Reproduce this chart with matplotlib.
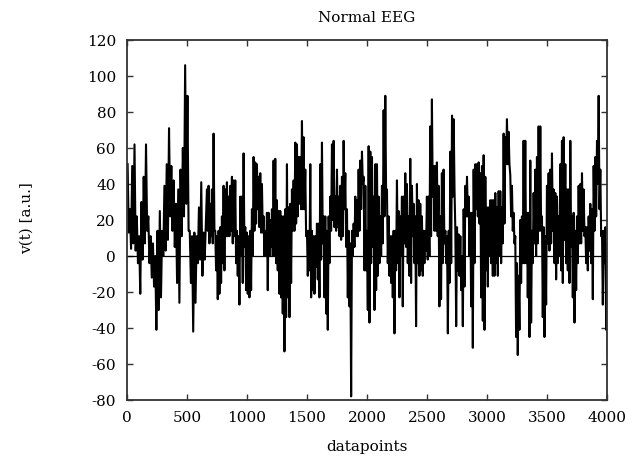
import numpy as np
import matplotlib
matplotlib.use("Agg")
import matplotlib.pyplot as plt

plt.rcParams["axes.unicode_minus"] = False

# Datapoint ranges covered by each block of readings
seg_start = [5, 666, 1319, 1986, 2653, 3319]
seg_end = [638, 1305, 1972, 2638, 3305, 4000]

# Local maxima / minima of the EEG trace (a.u.), read block by block
hi1 = [51,26,50,62,22,11,30,44,62,22,11,7,0,14,25,14,39,51,71,50,42,29,37,48,60,106,89,14,11,13,11,27,41,13]
lo1 = [13,4,7,3,-4,-21,-2,7,14,-4,-12,-17,-41,-30,-23,0,3,9,22,14,5,-15,-26,11,22,29,14,-15,-42,-26,-4,-2,-11,-2]

hi2 = [37,39,29,37,68,14,11,14,16,22,39,37,41,33,39,44,42,42,14,11,33,33,57,16,13,11,14,26,55,52,51,44,46,40,22,14,24,24,20,26,53,54,31,25,25,22,22]
lo2 = [14,7,11,7,14,-8,-24,-21,-15,-4,-8,11,11,11,14,7,11,-4,-11,-27,0,-15,5,-19,-21,-23,-19,0,14,18,26,16,13,13,0,0,-19,0,5,0,0,-4,-8,-21,-23,-32,-53]

hi3 = [26,51,27,29,37,42,63,62,55,55,75,66,48,14,14,51,14,11,11,18,18,51,63,22,22,14,22,33,62,64,33,48,33,39,44,64,46,26,14,7,14,18,33,31,48,53,58,44]
lo3 = [-34,-23,-34,-15,14,14,18,22,29,26,26,26,11,-11,-8,-23,-19,-21,-6,-13,-23,-2,7,-23,-32,-41,-4,14,20,16,14,16,11,9,11,26,5,-23,-28,-78,0,5,11,11,14,26,40,-8]

hi4 = [39,14,61,58,55,33,51,51,33,22,39,81,89,37,22,11,11,14,14,42,25,22,33,33,46,40,22,54,39,29,22,40,31,29,22,14,14,33,33,72,87,50,50,52,39,22,46,48]
lo4 = [-8,-30,-37,-4,5,-30,-19,-11,-4,0,7,22,33,-4,-11,-15,-23,-43,-8,-4,-23,0,-28,7,5,-4,-11,-15,11,-4,-39,-4,-11,-8,-11,-4,3,-2,0,11,33,14,14,11,-28,-24,-4,7]

hi5 = [14,11,14,58,78,76,14,16,12,11,0,26,39,44,33,24,24,48,51,51,52,46,50,56,44,27,27,31,31,31,35,27,36,36,27,68,66,76,69,45,39,24,11,-4,-11,20,22,64]
lo5 = [-4,-43,-15,-4,33,37,-39,-8,-11,-19,-39,-17,22,22,0,-28,-51,-4,26,22,18,-23,-36,-41,-8,-17,0,-4,-11,-11,-4,-11,0,-4,7,18,51,51,51,22,14,7,-45,-55,-41,-15,-4,-4]

hi6 = [64,24,24,53,14,35,48,55,72,72,22,16,11,39,46,48,57,37,35,33,22,51,64,66,51,37,37,64,22,24,14,22,39,40,46,37,16,16,22,29,26,50,55,64,89,48,14,14,16,7]
lo6 = [-4,-23,-45,-37,-4,7,0,7,14,14,-34,-45,-27,7,3,7,14,-4,-13,-4,0,-8,-15,9,-4,-8,-15,5,-23,-37,-19,-4,7,7,14,11,-4,-8,3,-4,-24,14,22,40,26,11,-27,-4,-41,-55]

his = [hi1, hi2, hi3, hi4, hi5, hi6]
los = [lo1, lo2, lo3, lo4, lo5, lo6]

xticks = [0, 500, 1000, 1500, 2000, 2500, 3000, 3500, 4000]
yticks = [-80, -60, -40, -20, 0, 20, 40, 60, 80, 100, 120]

# Build the trace: alternate max/min at each reading position
xs, ys = [], []
for s, e, h, l in zip(seg_start, seg_end, his, los):
    pos = np.linspace(s, e, len(h))
    step = (e - s) / (len(h) - 1)
    for p, a, b in zip(pos, h, l):
        xs.extend([p, p + step / 2])
        ys.extend([a, b])

W, H = 632, 462
fig = plt.figure(figsize=(W / 100, H / 100), dpi=100)
L, R, T, B = 127, 607, 40, 400
ax = fig.add_axes([L / W, 1 - B / H, (R - L) / W, (B - T) / H])

ax.plot(xs, ys, color="black", lw=1.5)
ax.axhline(0, color="black", lw=0.9)

ax.set_xlim(0, 4000)
ax.set_ylim(-80, 120)
ax.set_xticks(xticks)
ax.set_yticks(yticks)

font = "DejaVu Serif"
fs = 11
for lab in ax.get_xticklabels() + ax.get_yticklabels():
    lab.set_fontfamily(font)
    lab.set_fontsize(fs)
ax.tick_params(direction="in", length=4.5, width=1.0, top=True, right=True,
               color="#333333", pad=8)
ax.tick_params(axis="y", labelright=False)
for sp in ax.spines.values():
    sp.set_linewidth(1.3)
    sp.set_color("#333333")

cx = (L + R) / 2 / W
fig.text(cx, 1 - 18 / H, "Normal EEG", ha="center", va="center",
         fontfamily=font, fontsize=fs)
fig.text(cx, 1 - 447 / H, "datapoints", ha="center", va="center",
         fontfamily=font, fontsize=fs)
fig.text(27 / W, 1 - 218 / H, "v(t) [a.u.]", ha="center", va="center",
         rotation=90, fontfamily=font, fontsize=fs)

fig.savefig("out.png", dpi=100)
